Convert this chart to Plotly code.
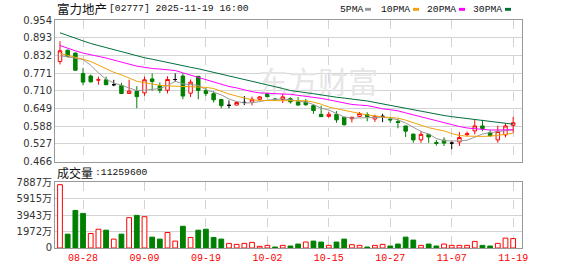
import plotly.graph_objects as go

# ---------------- data ----------------
dates = ["08-25", "08-26", "08-27", "08-28", "08-29",
         "09-01", "09-02", "09-03", "09-04", "09-05", "09-08", "09-09", "09-10", "09-11", "09-12",
         "09-15", "09-16", "09-17", "09-18", "09-19", "09-22", "09-23", "09-24", "09-25", "09-26",
         "09-29", "09-30",
         "10-02", "10-03", "10-06", "10-08", "10-09", "10-10", "10-13", "10-14", "10-15", "10-16",
         "10-17", "10-20", "10-21", "10-22", "10-23", "10-24", "10-27", "10-28", "10-30", "10-31",
         "11-03", "11-04", "11-05", "11-06", "11-07", "11-10", "11-11", "11-12", "11-13", "11-14",
         "11-17", "11-18", "11-19"]

open_ = [0.811, 0.850, 0.840, 0.770, 0.761, 0.747, 0.748, 0.731, 0.728, 0.701,
         0.709, 0.703, 0.751, 0.728, 0.712, 0.749, 0.761, 0.702, 0.760, 0.711,
         0.700, 0.680, 0.660, 0.661, 0.670, 0.671, 0.681, 0.700, 0.682, 0.680,
         0.683, 0.672, 0.672, 0.659, 0.629, 0.622, 0.629, 0.619, 0.614, 0.622,
         0.628, 0.613, 0.622, 0.612, 0.604, 0.589, 0.561, 0.541, 0.560, 0.532,
         0.540, 0.530, 0.534, 0.559, 0.572, 0.589, 0.566, 0.541, 0.558, 0.591]
high = [0.881, 0.852, 0.842, 0.789, 0.766, 0.759, 0.759, 0.748, 0.738, 0.748,
        0.726, 0.759, 0.770, 0.739, 0.760, 0.770, 0.770, 0.749, 0.761, 0.720,
        0.709, 0.680, 0.677, 0.675, 0.692, 0.690, 0.692, 0.703, 0.686, 0.700,
        0.688, 0.688, 0.682, 0.664, 0.659, 0.637, 0.640, 0.620, 0.620, 0.637,
        0.636, 0.628, 0.631, 0.620, 0.614, 0.590, 0.562, 0.572, 0.562, 0.541,
        0.550, 0.536, 0.568, 0.570, 0.612, 0.610, 0.575, 0.590, 0.598, 0.620]
low = [0.801, 0.826, 0.779, 0.729, 0.739, 0.731, 0.730, 0.726, 0.700, 0.700,
       0.650, 0.693, 0.710, 0.702, 0.701, 0.740, 0.681, 0.689, 0.681, 0.692,
       0.670, 0.650, 0.650, 0.660, 0.661, 0.660, 0.678, 0.688, 0.676, 0.668,
       0.666, 0.659, 0.659, 0.631, 0.620, 0.618, 0.600, 0.591, 0.601, 0.620,
       0.605, 0.603, 0.602, 0.600, 0.581, 0.551, 0.531, 0.531, 0.531, 0.521,
       0.520, 0.509, 0.520, 0.553, 0.560, 0.571, 0.553, 0.531, 0.550, 0.566]
close = [0.848, 0.829, 0.781, 0.740, 0.741, 0.748, 0.731, 0.731, 0.701, 0.709,
         0.690, 0.748, 0.742, 0.712, 0.749, 0.749, 0.692, 0.740, 0.711, 0.701,
         0.679, 0.659, 0.660, 0.670, 0.670, 0.681, 0.689, 0.690, 0.680, 0.689,
         0.672, 0.661, 0.662, 0.642, 0.621, 0.629, 0.610, 0.593, 0.619, 0.632,
         0.621, 0.622, 0.622, 0.610, 0.601, 0.571, 0.541, 0.560, 0.551, 0.529,
         0.530, 0.530, 0.549, 0.562, 0.589, 0.580, 0.555, 0.570, 0.589, 0.600]

# volume in 万 shares
volume = [7570, 1655, 4490, 4137, 1734, 2246, 2128, 1064, 1655, 3625,
          3900, 3743, 1300, 1064, 1852, 827, 2600, 1260, 2128, 2246,
          1260, 1064, 552, 433, 552, 670, 197, 315, 118, 315,
          236, 473, 709, 827, 709, 315, 709, 1064, 394, 315,
          118, 315, 433, 236, 473, 1300, 946, 315, 473, 236,
          473, 315, 315, 315, 788, 315, 236, 552, 1182, 1126]

ma5 = [0.831, 0.826, 0.822, 0.818, 0.798, 0.772, 0.750, 0.737, 0.729, 0.721,
       0.711, 0.712, 0.714, 0.718, 0.728, 0.743, 0.734, 0.731, 0.729, 0.714,
       0.704, 0.696, 0.682, 0.673, 0.668, 0.669, 0.673, 0.678, 0.680, 0.682,
       0.679, 0.675, 0.671, 0.663, 0.650, 0.644, 0.632, 0.620, 0.616, 0.617,
       0.618, 0.617, 0.619, 0.616, 0.610, 0.599, 0.583, 0.570, 0.561, 0.546,
       0.538, 0.537, 0.537, 0.540, 0.551, 0.561, 0.566, 0.569, 0.572, 0.576]
ma10 = [0.839, 0.833, 0.827, 0.819, 0.811, 0.799, 0.786, 0.774, 0.765, 0.755,
        0.743, 0.738, 0.733, 0.729, 0.727, 0.726, 0.726, 0.726, 0.725, 0.722,
        0.718, 0.708, 0.699, 0.692, 0.685, 0.679, 0.677, 0.676, 0.676, 0.676,
        0.676, 0.676, 0.676, 0.671, 0.664, 0.654, 0.648, 0.642, 0.637, 0.632,
        0.627, 0.623, 0.620, 0.618, 0.616, 0.609, 0.600, 0.590, 0.583, 0.577,
        0.572, 0.563, 0.556, 0.554, 0.553, 0.553, 0.554, 0.556, 0.560, 0.564]
ma20 = [0.866, 0.856, 0.848, 0.840, 0.835, 0.830, 0.823, 0.816, 0.810, 0.802,
        0.795, 0.790, 0.787, 0.785, 0.783, 0.780, 0.772, 0.764, 0.757, 0.749,
        0.740, 0.731, 0.725, 0.720, 0.713, 0.707, 0.703, 0.701, 0.700, 0.699,
        0.698, 0.695, 0.692, 0.688, 0.684, 0.679, 0.673, 0.667, 0.663, 0.661,
        0.659, 0.654, 0.648, 0.645, 0.641, 0.634, 0.627, 0.620, 0.614, 0.608,
        0.601, 0.594, 0.587, 0.582, 0.579, 0.576, 0.575, 0.575, 0.575, 0.576]
ma30 = [0.910, 0.900, 0.891, 0.882, 0.873, 0.866, 0.858, 0.851, 0.843, 0.836,
        0.829, 0.824, 0.819, 0.813, 0.808, 0.802, 0.797, 0.791, 0.786, 0.780,
        0.774, 0.767, 0.761, 0.755, 0.749, 0.743, 0.737, 0.731, 0.725, 0.718,
        0.711, 0.708, 0.705, 0.700, 0.696, 0.691, 0.688, 0.685, 0.682, 0.679,
        0.675, 0.670, 0.665, 0.660, 0.654, 0.648, 0.643, 0.639, 0.634, 0.630,
        0.625, 0.621, 0.618, 0.615, 0.612, 0.609, 0.605, 0.601, 0.598, 0.595]

price_ticks = [0.466, 0.527, 0.588, 0.649, 0.710, 0.771, 0.832, 0.893, 0.954]
vol_ticks = [0, 1971.75, 3943.5, 5915.25, 7887]
vol_tick_labels = ["0", "1972万", "3943万", "5915万", "7887万"]
date_ticks = ["08-28", "09-09", "09-19", "10-02", "10-15", "10-27", "11-07", "11-19"]

title_name = "富力地产"
title_rest = "[02777] 2025-11-19 16:00"
vol_title_cn = "成交量"
vol_title_num = ":11259600"
ma_names = ["5PMA", "10PMA", "20PMA", "30PMA"]
watermark = "东方财富"

# ---------------- styles ----------------
RED = "#ff0000"
GREEN = "#008000"
MA_COLORS = ["#999999", "#f0a30a", "#ff00ff", "#00703c"]
GRID = "#d3d3d3"
FRAME = "#999999"
W, H = 578, 276
L, R, T, B = 55, 56, 20, 21
PW, PH = W - L - R, H - T - B


def px_x(px):
    return (px - L) / PW


def px_y(py):
    return (H - B - py) / PH


xs = list(range(len(dates)))
up = [c > o for o, c in zip(open_, close)]
dn = [c < o for o, c in zip(open_, close)]
flat = [c == o for o, c in zip(open_, close)]


def pick(arr, mask):
    return [v if m else None for v, m in zip(arr, mask)]


fig = go.Figure()

# watermark behind everything
fig.add_trace(go.Scatter(x=[33.6], y=[0.727], mode="text", text=[watermark],
                         textfont=dict(family="Noto Sans CJK SC", size=30, color="#e6e6e6"),
                         xaxis="x", yaxis="y", hoverinfo="skip", showlegend=False))

ud = [u or d for u, d in zip(up, dn)]
fig.add_trace(go.Candlestick(
    x=xs, open=pick(open_, ud), high=pick(high, ud), low=pick(low, ud), close=pick(close, ud),
    increasing=dict(line=dict(color=RED, width=1), fillcolor="white"),
    decreasing=dict(line=dict(color=GREEN, width=1), fillcolor=GREEN),
    whiskerwidth=0, xaxis="x", yaxis="y", showlegend=False, hoverinfo="skip"))
fig.add_trace(go.Candlestick(
    x=xs, open=pick(open_, flat), high=pick(high, flat), low=pick(low, flat), close=pick(close, flat),
    increasing=dict(line=dict(color="black", width=1), fillcolor="black"),
    decreasing=dict(line=dict(color="black", width=1), fillcolor="black"),
    whiskerwidth=0, xaxis="x", yaxis="y", showlegend=False, hoverinfo="skip"))

for ma, col in zip([ma5, ma10, ma20, ma30], MA_COLORS):
    fig.add_trace(go.Scatter(x=xs, y=ma, mode="lines", line=dict(color=col, width=1),
                             xaxis="x", yaxis="y", showlegend=False, hoverinfo="skip"))

# volume colour: close vs previous close (first bar: close vs open)
vol_up = [close[0] >= open_[0]] + [close[i] >= close[i - 1] for i in range(1, len(close))]
vol_dn = [not v for v in vol_up]
fig.add_trace(go.Bar(x=xs, y=pick(volume, vol_up), width=0.62,
                     marker=dict(color="white", line=dict(color=RED, width=1)),
                     xaxis="x2", yaxis="y2", showlegend=False, hoverinfo="skip"))
fig.add_trace(go.Bar(x=xs, y=pick(volume, vol_dn), width=0.62,
                     marker=dict(color=GREEN, line=dict(color=GREEN, width=1)),
                     xaxis="x2", yaxis="y2", showlegend=False, hoverinfo="skip"))

tickpos = [dates.index(d) for d in date_ticks]
xrange_ = [-0.65, 60.15]
tickfont = dict(family="DejaVu Sans", size=10, color="#333333")

fig.update_layout(
    width=W, height=H, margin=dict(l=L, r=R, t=T, b=B),
    paper_bgcolor="white", plot_bgcolor="white",
    boxgap=0.35, barmode="overlay",
    xaxis=dict(domain=[0, 1], anchor="y", range=xrange_, tickvals=tickpos, showticklabels=False,
               showgrid=True, gridcolor=GRID, griddash="dash", gridwidth=1,
               showline=True, mirror=True, linecolor=FRAME, linewidth=1, zeroline=False,
               rangeslider=dict(visible=False), fixedrange=True),
    yaxis=dict(domain=[px_y(166), 1], anchor="x", range=[0.466, 0.954], tickvals=price_ticks,
               tickformat=".3f", tickfont=tickfont, showgrid=True, gridcolor=GRID,
               showline=True, mirror=True, linecolor=FRAME, linewidth=1, zeroline=False, ticks=""),
    xaxis2=dict(domain=[0, 1], anchor="y2", range=xrange_, tickvals=tickpos, ticktext=date_ticks,
                tickfont=dict(family="Liberation Mono", size=10, color=RED),
                showgrid=True, gridcolor=GRID, griddash="dash", gridwidth=1,
                showline=True, mirror=True, linecolor=FRAME, linewidth=1, zeroline=False, ticks=""),
    yaxis2=dict(domain=[0, px_y(187)], anchor="x2", range=[0, 7887], tickvals=vol_ticks,
                ticktext=vol_tick_labels, tickfont=dict(family="DejaVu Sans, Noto Sans CJK SC", size=10, color="#333333"),
                showgrid=True, gridcolor=GRID, showline=True, mirror=True, linecolor=FRAME,
                linewidth=1, zeroline=False, ticks=""),
)

ann = []
mono = "Liberation Mono"
cjk = "Noto Sans CJK SC"
ann.append(dict(text=title_name, x=px_x(55), y=px_y(8), xref="paper", yref="paper",
                xanchor="left", yanchor="middle", showarrow=False,
                font=dict(family=cjk, size=12.5, color="#111111")))
ann.append(dict(text=title_rest, x=px_x(107), y=px_y(8), xref="paper", yref="paper",
                xanchor="left", yanchor="middle", showarrow=False,
                font=dict(family=mono, size=9.7, color="#111111")))
ann.append(dict(text=vol_title_cn, x=px_x(55), y=px_y(177), xref="paper", yref="paper",
                xanchor="left", yanchor="middle", showarrow=False,
                font=dict(family=cjk, size=12, color="#111111")))
ann.append(dict(text=vol_title_num, x=px_x(93), y=px_y(177), xref="paper", yref="paper",
                xanchor="left", yanchor="middle", showarrow=False,
                font=dict(family=mono, size=9.7, color="#111111")))

legend_text_x = [338, 379, 425, 471]
legend_sq_x = [365, 413, 459, 505]
shapes = []
for name, tx, sx, col in zip(ma_names, legend_text_x, legend_sq_x, MA_COLORS):
    ann.append(dict(text=name, x=px_x(tx), y=px_y(9), xref="paper", yref="paper",
                    xanchor="left", yanchor="middle", showarrow=False,
                    font=dict(family=mono, size=9.7, color="#111111")))
    shapes.append(dict(type="rect", xref="paper", yref="paper",
                       x0=px_x(sx), x1=px_x(sx + 6), y0=px_y(7.5), y1=px_y(10.5),
                       fillcolor=col, line=dict(width=0)))

fig.update_layout(annotations=ann, shapes=shapes)
fig.write_html("out.html")
